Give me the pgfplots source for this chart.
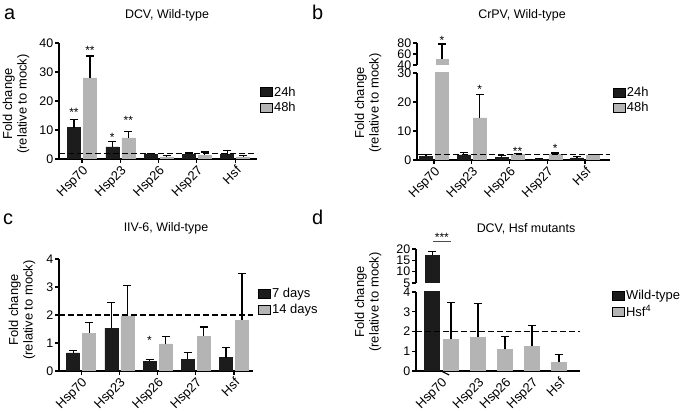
\documentclass[border=0pt]{standalone}
\usepackage{fontspec}
\setmainfont{Liberation Sans}
\usepackage{pgfplots}
\pgfplotsset{compat=1.18}

\definecolor{dark}{HTML}{1C1C1C}
\definecolor{light}{HTML}{B4B4B4}

\tikzset{sig/.style={anchor=base, font=\fontsize{12}{13}\selectfont}}

\pgfplotsset{
  base/.style={
    scale only axis, anchor=south west,
    axis y line*=left, axis x line*=bottom,
    axis line style={-, line width=1.2bp},
    every tick/.style={black, line width=1.2bp},
    major tick length=4bp, tick align=outside,
    yticklabel style={font=\fontsize{12.5}{13}\selectfont, inner sep=1.5bp},
    /pgf/number format/assume math mode=true,
    ybar, bar width=13bp,
    clip mode=individual,
    xticklabel style={rotate=45, anchor=north east, font=\fontsize{13}{14}\selectfont, inner sep=1bp},
    legend style={draw=none, fill=none, font=\fontsize{13}{14}\selectfont, anchor=west,
      inner sep=0pt, row sep=0.5bp, legend cell align=left,
      /tikz/every even column/.append style={column sep=3bp}},
    legend image code/.code={\fill[##1] (0bp,-4.5bp) rectangle (11.5bp,4.5bp);},
  },
  upper/.style={
    scale only axis, anchor=south west,
    axis y line*=left, axis x line=none, xtick=\empty,
    y axis line style={-, line width=1.2bp},
    x axis line style={draw=none},
    every tick/.style={black, line width=1.2bp},
    major tick length=4bp, tick align=outside,
    yticklabel style={font=\fontsize{12.5}{13}\selectfont, inner sep=1.5bp},
    /pgf/number format/assume math mode=true,
    ybar, bar width=13bp,
    clip mode=individual,
  },
  eb/.style={error bars/.cd, y dir=plus, y explicit,
    error bar style={line width=1.2bp, draw=black},
    error mark options={rotate=90, mark size=4bp, line width=1.2bp, draw=black}},
  ref/.style={sharp plot, draw=black, dash pattern=on 5.5bp off 3.5bp, line width=1.2bp, forget plot},
}

\begin{document}
\begin{tikzpicture}
\path[use as bounding box] (0,0) rectangle (685bp,413bp);

% ---------------- panel a
\begin{axis}[base, at={(59bp,254bp)}, width=198bp, height=116bp,
  xmin=-0.6, xmax=4.57, ymin=0, ymax=40, ytick={0,10,20,30,40},
  xtick={0,1,2,3,4}, xticklabels={Hsp70,Hsp23,Hsp26,Hsp27,Hsf},
  legend style={at={(1.015,0.51)}}]
\addplot[fill=dark, draw=dark, bar shift=-8bp, forget plot, eb] coordinates {
  (0,10.8) +- (0,2.7) (1,4.2) +- (0,1.8) (2,1.7) +- (0,0.2) (3,1.7) +- (0,0.4) (4,1.55) +- (0,1.5)};
\addplot[fill=light, draw=light, bar shift=8bp, forget plot, eb] coordinates {
  (0,28.0) +- (0,7.5) (1,7.3) +- (0,2.2) (2,0.7) +- (0,0.6) (3,1.3) +- (0,1.1) (4,0.7) +- (0,0.6)};
\addplot[ref] coordinates {(-0.6,2) (4.57,2)};
\addlegendimage{fill=dark}\addlegendentry{24h}
\addlegendimage{fill=light}\addlegendentry{48h}
\node[sig, xshift=-8bp] at (axis cs:0,14.7) {**};
\node[sig, xshift=8bp] at (axis cs:0,36) {**};
\node[sig, xshift=-8bp] at (axis cs:1,6.0) {*};
\node[sig, xshift=8bp] at (axis cs:1,11.9) {**};
\end{axis}

% ---------------- panel b
\begin{axis}[base, at={(417bp,253bp)}, width=193bp, height=87bp,
  xmin=-0.45, xmax=4.66, ymin=0, ymax=30, ytick={0,10,20,30},
  xtick={0,1,2,3,4}, xticklabels={Hsp70,Hsp23,Hsp26,Hsp27,Hsf},
  legend style={at={(1.015,0.69)}}]
\addplot[fill=dark, draw=dark, bar shift=-8bp, forget plot, eb] coordinates {
  (0,1.3) +- (0,0.7) (1,1.8) +- (0,0.7) (2,1.0) +- (0,0.6) (3,0.3) +- (0,0.1) (4,0.7) +- (0,0.5)};
\addplot[fill=light, draw=light, bar shift=8bp, forget plot, eb] coordinates {
  (0,50) +- (0,28) (1,14.5) +- (0,8.2) (2,2.0) +- (0,0.2) (3,2.0) +- (0,0.4) (4,1.8) +- (0,0.2)};
\addplot[ref] coordinates {(-0.45,2) (4.66,2)};
\addlegendimage{fill=dark}\addlegendentry{24h}
\addlegendimage{fill=light}\addlegendentry{48h}
\node[sig, xshift=8bp] at (axis cs:1,22.9) {*};
\node[sig, xshift=8bp] at (axis cs:2,1.6) {**};
\node[sig, xshift=8bp] at (axis cs:3,2.5) {*};
\end{axis}
% upper segment of the broken axis: only the bar that reaches above 40
\begin{axis}[upper, at={(417bp,348bp)}, width=193bp, height=22bp,
  xmin=-0.45, xmax=4.66, ymin=40, ymax=80, ytick={40,60,80}]
\addplot[fill=light, draw=none, bar shift=8bp, eb] coordinates {(0,50) +- (0,28)};
\node[sig, xshift=8bp] at (axis cs:0,77.3) {*};
\end{axis}

% ---------------- panel c
\begin{axis}[base, at={(59bp,42bp)}, width=194bp, height=112bp,
  xmin=-0.58, xmax=4.5, ymin=0, ymax=4, ytick={0,1,2,3,4},
  xtick={0,1,2,3,4}, xticklabels={Hsp70,Hsp23,Hsp26,Hsp27,Hsf},
  legend style={at={(1.026,0.62)}}]
\addplot[fill=dark, draw=dark, bar shift=-8bp, forget plot, eb] coordinates {
  (0,0.65) +- (0,0.07) (1,1.52) +- (0,0.93) (2,0.35) +- (0,0.07) (3,0.42) +- (0,0.25) (4,0.48) +- (0,0.37)};
\addplot[fill=light, draw=light, bar shift=8bp, forget plot, eb] coordinates {
  (0,1.35) +- (0,0.37) (1,1.97) +- (0,1.08) (2,0.97) +- (0,0.25) (3,1.25) +- (0,0.32) (4,1.82) +- (0,1.65)};
\addplot[ref] coordinates {(-0.58,2) (4.5,2)};
\addlegendimage{fill=dark}\addlegendentry{7 days}
\addlegendimage{fill=light}\addlegendentry{14 days}
\node[sig, xshift=-8bp] at (axis cs:2,0.95) {*};
\end{axis}

% ---------------- panel d
\begin{axis}[base, at={(416bp,42bp)}, width=164bp, height=79bp, bar width=15bp,
  xmin=-0.3, xmax=5.78, ymin=0, ymax=4, ytick={0,1,2,3,4},
  xtick={0.63,2,3,4,5}, xticklabels={Hsp70,Hsp23,Hsp26,Hsp27,Hsf},
  major x tick style=transparent,
  legend style={at={(1.195,0.85)}}]
\addplot[fill=dark, draw=dark, bar shift=0bp, forget plot, eb] coordinates {
  (0.3,17.4) +- (0,1.4)};
\addplot[fill=light, draw=light, bar shift=0bp, forget plot, eb] coordinates {
  (1,1.6) +- (0,1.85) (2,1.7) +- (0,1.7) (3,1.1) +- (0,0.65) (4,1.25) +- (0,1.05) (5,0.45) +- (0,0.37)};
\addplot[ref] coordinates {(-0.3,2) (5.78,2)};
\addlegendimage{fill=dark}\addlegendentry{Wild-type}
\addlegendimage{fill=light}\addlegendentry{Hsf\textsuperscript{4}}
\draw[line width=1.2bp] (axis cs:0.63,0) -- ++(0,-4bp);
\end{axis}
% upper segment of the broken axis: only the wild-type Hsp70 bar
\begin{axis}[upper, at={(416bp,130bp)}, width=164bp, height=34bp, bar width=15bp,
  xmin=-0.3, xmax=5.78, ymin=5, ymax=20, ytick={5,10,15,20}]
\addplot[fill=dark, draw=none, bar shift=0bp, eb] coordinates {(0.3,17.4) +- (0,1.4)};
\draw[line width=1bp, black!70] (axis cs:0.33,23.5) -- (axis cs:1.0,23.5);
\node[sig] at (axis cs:0.66,23.4) {***};
\end{axis}

% ---------------- titles, labels, panel letters
\begin{scope}[every node/.style={font=\fontsize{12.5}{13}\selectfont}]
\node at (167bp,398bp) {DCV, Wild-type};
\node at (522bp,398bp) {CrPV, Wild-type};
\node at (166bp,185bp) {IIV-6, Wild-type};
\node at (526bp,184bp) {DCV, Hsf mutants};
\end{scope}
\begin{scope}[every node/.style={font=\fontsize{13}{14.5}\selectfont, rotate=90, align=center}]
\node at (16bp,309bp) {Fold change\\(relative to mock)};
\node at (368bp,310bp) {Fold change\\(relative to mock)};
\node at (22bp,103bp) {Fold change\\(relative to mock)};
\node at (368bp,111bp) {Fold change\\(relative to mock)};
\end{scope}
\begin{scope}[every node/.style={font=\fontsize{20}{22}\selectfont, anchor=base west, inner sep=0pt}]
\node at (4bp,393bp) {a};
\node at (312bp,393bp) {b};
\node at (3bp,188bp) {c};
\node at (312bp,188bp) {d};
\end{scope}
\end{tikzpicture}
\end{document}
